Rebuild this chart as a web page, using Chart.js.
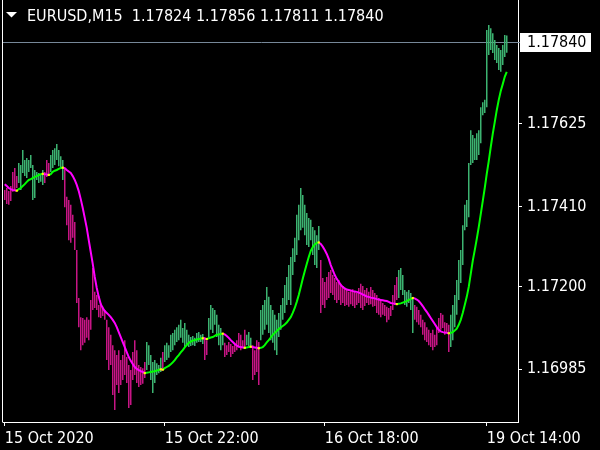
<!DOCTYPE html>
<html>
<head>
<meta charset="utf-8">
<script src="https://cdn.jsdelivr.net/npm/chart.js@4.4.0/dist/chart.umd.min.js"></script>
<style>
html,body{margin:0;padding:0;background:#000;overflow:hidden}
#wrap{width:600px;height:450px;position:relative}
</style>
</head>
<body>
<div id="wrap"><canvas id="c" width="600" height="450"></canvas></div>
<script>
// ---- data ----
const symbolTitle = 'EURUSD,M15';
const lastBarOHLC = [1.17824, 1.17856, 1.17811, 1.17840];
const currentPrice = 1.17840;
const yTickValues = [1.16985, 1.17200, 1.17410, 1.17625];
const xTickBars = [0, 80, 160, 241];
const xTickLabels = ['15 Oct 2020', '15 Oct 22:00', '16 Oct 18:00', '19 Oct 14:00'];

const highs = [
1.17453,1.17458,1.17450,1.17463,1.17500,1.17510,1.17489,1.17523,1.17518,1.17557,
1.17531,1.17536,1.17531,1.17544,1.17518,1.17505,1.17500,1.17497,1.17492,1.17505,
1.17500,1.17531,1.17523,1.17544,1.17557,1.17562,1.17573,1.17557,1.17541,1.17531,
1.17510,1.17435,1.17427,1.17414,1.17388,1.17369,1.17296,1.17171,1.17121,1.17119,
1.17114,1.17121,1.17114,1.17166,1.17249,1.17187,1.17179,1.17153,1.17158,1.17148,
1.17140,1.17114,1.17095,1.17075,1.17048,1.17035,1.17022,1.17035,1.17009,1.17022,
1.17061,1.17017,1.16996,1.16983,1.17030,1.17061,1.17035,1.16996,1.16991,1.16988,
1.17004,1.17056,1.17048,1.17022,1.17004,1.17009,1.17001,1.16996,1.17015,1.17030,
1.17048,1.17054,1.17048,1.17075,1.17080,1.17088,1.17095,1.17101,1.17114,1.17093,
1.17106,1.17088,1.17075,1.17069,1.17072,1.17067,1.17080,1.17082,1.17075,1.17077,
1.17069,1.17061,1.17119,1.17153,1.17145,1.17140,1.17127,1.17101,1.17093,1.17075,
1.17054,1.17048,1.17056,1.17051,1.17046,1.17054,1.17061,1.17080,1.17075,1.17061,
1.17088,1.17075,1.17082,1.17067,1.17048,1.17035,1.17061,1.17056,1.17140,1.17153,
1.17166,1.17200,1.17174,1.17153,1.17140,1.17127,1.17114,1.17132,1.17153,1.17171,
1.17205,1.17226,1.17257,1.17278,1.17301,1.17328,1.17388,1.17414,1.17458,1.17440,
1.17414,1.17393,1.17380,1.17375,1.17356,1.17348,1.17335,1.17359,1.17270,1.17223,
1.17213,1.17226,1.17239,1.17244,1.17231,1.17223,1.17213,1.17218,1.17208,1.17202,
1.17197,1.17192,1.17187,1.17192,1.17194,1.17189,1.17184,1.17197,1.17208,1.17202,
1.17192,1.17197,1.17187,1.17200,1.17192,1.17184,1.17179,1.17171,1.17166,1.17158,
1.17153,1.17148,1.17145,1.17150,1.17179,1.17205,1.17226,1.17244,1.17249,1.17231,
1.17192,1.17187,1.17192,1.17184,1.17171,1.17153,1.17148,1.17140,1.17127,1.17114,
1.17108,1.17095,1.17088,1.17080,1.17088,1.17075,1.17093,1.17119,1.17132,1.17127,
1.17108,1.17106,1.17101,1.17127,1.17153,1.17179,1.17218,1.17270,1.17296,1.17361,
1.17414,1.17427,1.17523,1.17609,1.17596,1.17588,1.17601,1.17609,1.17669,1.17682,
1.17688,1.17870,1.17883,1.17875,1.17862,1.17844,1.17831,1.17823,1.17818,1.17831,
1.17857,1.17856
];

const lows = [
1.17427,1.17416,1.17414,1.17424,1.17448,1.17453,1.17458,1.17471,1.17453,1.17497,
1.17489,1.17484,1.17500,1.17510,1.17427,1.17432,1.17479,1.17471,1.17474,1.17466,
1.17471,1.17487,1.17492,1.17500,1.17510,1.17518,1.17531,1.17515,1.17510,1.17479,
1.17408,1.17361,1.17322,1.17315,1.17328,1.17296,1.17158,1.17095,1.17035,1.17048,
1.17054,1.17067,1.17061,1.17088,1.17140,1.17145,1.17140,1.17121,1.17119,1.17124,
1.17114,1.17009,1.16983,1.16996,1.16918,1.16879,1.16944,1.16923,1.16944,1.16957,
1.16970,1.16949,1.16884,1.16892,1.16957,1.16970,1.16949,1.16939,1.16944,1.16947,
1.16962,1.16983,1.16996,1.16957,1.16923,1.16949,1.16970,1.16975,1.16978,1.16988,
1.17004,1.17009,1.17015,1.17030,1.17035,1.17048,1.17056,1.17061,1.17067,1.17054,
1.17043,1.17048,1.17043,1.17046,1.17048,1.17046,1.17054,1.17056,1.17056,1.17051,
1.17009,1.17022,1.17067,1.17088,1.17080,1.17101,1.17069,1.17048,1.17035,1.17048,
1.17017,1.17022,1.17030,1.17017,1.17025,1.17030,1.17035,1.17043,1.17035,1.17041,
1.17043,1.17048,1.17046,1.17041,1.16957,1.16970,1.16978,1.16944,1.17061,1.17075,
1.17088,1.17101,1.17080,1.17061,1.17054,1.17035,1.17022,1.17069,1.17088,1.17114,
1.17132,1.17153,1.17166,1.17153,1.17231,1.17265,1.17283,1.17322,1.17348,1.17354,
1.17335,1.17309,1.17304,1.17322,1.17283,1.17257,1.17249,1.17296,1.17132,1.17153,
1.17145,1.17166,1.17171,1.17184,1.17179,1.17166,1.17158,1.17166,1.17153,1.17158,
1.17150,1.17153,1.17148,1.17155,1.17150,1.17145,1.17153,1.17158,1.17145,1.17140,
1.17150,1.17158,1.17153,1.17155,1.17148,1.17150,1.17132,1.17127,1.17121,1.17127,
1.17124,1.17108,1.17114,1.17124,1.17140,1.17153,1.17166,1.17171,1.17192,1.17179,
1.17153,1.17148,1.17158,1.17140,1.17080,1.17114,1.17108,1.17101,1.17095,1.17075,
1.17061,1.17056,1.17048,1.17043,1.17035,1.17043,1.17048,1.17080,1.17088,1.17093,
1.17075,1.17080,1.17030,1.17043,1.17061,1.17095,1.17127,1.17166,1.17210,1.17257,
1.17348,1.17356,1.17382,1.17518,1.17523,1.17531,1.17531,1.17544,1.17575,1.17648,
1.17654,1.17669,1.17805,1.17818,1.17810,1.17792,1.17784,1.17766,1.17761,1.17779,
1.17800,1.17811
];

const indicator = [
1.17468,1.17463,1.17458,1.17455,1.17453,1.17452,1.17451,1.17455,1.17458,1.17463,
1.17468,1.17474,1.17479,1.17481,1.17484,1.17487,1.17489,1.17492,1.17494,1.17495,
1.17494,1.17493,1.17492,1.17494,1.17500,1.17503,1.17505,1.17508,1.17510,1.17511,
1.17510,1.17505,1.17501,1.17497,1.17489,1.17479,1.17466,1.17450,1.17429,1.17406,
1.17380,1.17354,1.17322,1.17291,1.17260,1.17226,1.17197,1.17174,1.17155,1.17145,
1.17137,1.17132,1.17127,1.17121,1.17114,1.17106,1.17095,1.17082,1.17069,1.17056,
1.17043,1.17030,1.17017,1.17007,1.16999,1.16991,1.16986,1.16983,1.16980,1.16978,
1.16975,1.16976,1.16977,1.16978,1.16979,1.16980,1.16982,1.16983,1.16985,1.16984,
1.16988,1.16991,1.16994,1.16998,1.17003,1.17009,1.17016,1.17022,1.17029,1.17035,
1.17042,1.17048,1.17054,1.17057,1.17060,1.17061,1.17063,1.17064,1.17065,1.17066,
1.17065,1.17064,1.17066,1.17068,1.17069,1.17072,1.17075,1.17076,1.17077,1.17078,
1.17076,1.17072,1.17067,1.17061,1.17056,1.17051,1.17047,1.17044,1.17043,1.17042,
1.17041,1.17042,1.17043,1.17044,1.17043,1.17042,1.17041,1.17040,1.17041,1.17043,
1.17048,1.17055,1.17061,1.17068,1.17075,1.17080,1.17085,1.17090,1.17094,1.17098,
1.17102,1.17107,1.17114,1.17121,1.17132,1.17145,1.17161,1.17179,1.17200,1.17221,
1.17241,1.17260,1.17278,1.17294,1.17304,1.17311,1.17315,1.17316,1.17312,1.17305,
1.17296,1.17286,1.17273,1.17257,1.17244,1.17231,1.17221,1.17213,1.17205,1.17200,
1.17196,1.17193,1.17192,1.17191,1.17189,1.17188,1.17187,1.17185,1.17183,1.17180,
1.17178,1.17175,1.17174,1.17172,1.17171,1.17170,1.17168,1.17167,1.17166,1.17165,
1.17164,1.17163,1.17161,1.17158,1.17157,1.17156,1.17155,1.17156,1.17157,1.17159,
1.17161,1.17163,1.17166,1.17168,1.17171,1.17170,1.17167,1.17163,1.17157,1.17150,
1.17142,1.17135,1.17127,1.17119,1.17111,1.17103,1.17095,1.17088,1.17084,1.17082,
1.17081,1.17080,1.17079,1.17080,1.17082,1.17086,1.17091,1.17101,1.17114,1.17132,
1.17153,1.17174,1.17200,1.17234,1.17268,1.17296,1.17325,1.17356,1.17390,1.17424,
1.17458,1.17495,1.17528,1.17565,1.17599,1.17630,1.17661,1.17688,1.17711,1.17729,
1.17748,1.17761
];

// ---- styling ----
const FONT = "'DejaVu Sans Condensed', 'Liberation Sans', sans-serif";
const UP_BAR = '#3cb371', DN_BAR = '#c71585';
const UP_LINE = '#00ff00', DN_LINE = '#ff00ff', TURN = '#ffff00';

const barColors = indicator.map((v, i) => (i > 0 && v >= indicator[i - 1]) ? UP_BAR : DN_BAR);
function isTurn(i) {
  if (i <= 0 || i >= indicator.length - 1) return false;
  const a = indicator[i] - indicator[i - 1], b = indicator[i + 1] - indicator[i];
  return (a >= 0) !== (b >= 0);
}

const mtPlugin = {
  id: 'mt',
  beforeDraw(chart) {
    const c = chart.ctx; c.save(); c.fillStyle = '#000'; c.fillRect(0, 0, chart.width, chart.height); c.restore();
  },
  beforeDatasetsDraw(chart) {
    const {ctx, chartArea: a, scales: {y}} = chart;
    const py = Math.round(y.getPixelForValue(currentPrice)) + 0.5;
    ctx.save(); ctx.strokeStyle = '#778899'; ctx.lineWidth = 1;
    ctx.beginPath(); ctx.moveTo(a.left, py); ctx.lineTo(a.right + 2, py); ctx.stroke(); ctx.restore();
  },
  afterDraw(chart) {
    const {ctx, chartArea: a, scales: {y}} = chart;
    ctx.save();
    // left frame
    ctx.strokeStyle = '#fff'; ctx.lineWidth = 1;
    ctx.beginPath(); ctx.moveTo(2.5, 0); ctx.lineTo(2.5, a.bottom + 0.5); ctx.stroke();
    // current price box
    const py = Math.round(y.getPixelForValue(currentPrice));
    ctx.fillStyle = '#fff'; ctx.fillRect(520, py - 9, 71, 19);
    ctx.fillStyle = '#000'; ctx.font = '16px ' + FONT; ctx.textBaseline = 'middle'; ctx.textAlign = 'left';
    ctx.fillText(currentPrice.toFixed(5), 527, py + 1);
    // title
    ctx.fillStyle = '#fff';
    ctx.beginPath(); ctx.moveTo(6, 12); ctx.lineTo(17, 12); ctx.lineTo(11.5, 17.5); ctx.closePath(); ctx.fill();
    ctx.textBaseline = 'alphabetic';
    ctx.fillText(symbolTitle + '  ' + lastBarOHLC.map(v => v.toFixed(5)).join(' '), 27, 21);
    ctx.restore();
  }
};

new Chart(document.getElementById('c'), {
  type: 'bar',
  data: {
    datasets: [
      {
        type: 'line',
        data: indicator.map((v, i) => ({x: i, y: v})),
        borderWidth: 2,
        borderColor: DN_LINE,
        segment: { borderColor: ctx => ctx.p1.parsed.y >= ctx.p0.parsed.y ? UP_LINE : DN_LINE },
        pointRadius: ctx => isTurn(ctx.dataIndex) ? 1.5 : 0,
        pointStyle: 'rect',
        pointBackgroundColor: TURN,
        pointBorderWidth: 0,
        tension: 0,
        order: 0
      },
      {
        type: 'bar',
        data: highs.map((h, i) => ({x: i, y: [lows[i], h]})),
        backgroundColor: barColors,
        barThickness: 1.5,
        borderWidth: 0,
        inflateAmount: 0,
        grouped: false,
        order: 1
      }
    ]
  },
  options: {
    responsive: false,
    devicePixelRatio: 1,
    animation: false,
    events: [],
    layout: { padding: { left: 3, top: 0, right: 0, bottom: 0 } },
    plugins: { legend: { display: false }, tooltip: { enabled: false } },
    scales: {
      x: {
        type: 'linear', position: 'bottom', min: -0.875, max: 256.625, offset: false,
        afterBuildTicks: s => { s.ticks = xTickBars.map(v => ({value: v})); },
        afterFit: s => { s.height = 28; s.paddingLeft = 0; s.paddingRight = 0; },
        grid: { display: true, drawOnChartArea: false, drawTicks: true, tickLength: 4, color: '#fff', lineWidth: 1, offset: false },
        border: { display: true, color: '#fff', width: 1 },
        ticks: { color: '#fff', font: { family: FONT, size: 16 }, align: 'start', maxRotation: 0, minRotation: 0, autoSkip: false, padding: 3,
                 callback: (v, i) => xTickLabels[i] }
      },
      y: {
        type: 'linear', position: 'right', min: 1.168475, max: 1.179485,
        afterBuildTicks: s => { s.ticks = yTickValues.map(v => ({value: v})); },
        afterFit: s => { s.width = 82; s.paddingTop = 0; s.paddingBottom = 0; },
        grid: { display: true, drawOnChartArea: false, drawTicks: true, tickLength: 4, color: '#fff', lineWidth: 1 },
        border: { display: true, color: '#fff', width: 1 },
        ticks: { color: '#fff', font: { family: FONT, size: 16 }, padding: 5, autoSkip: false,
                 callback: v => Number(v).toFixed(5) }
      }
    }
  },
  plugins: [mtPlugin]
});
</script>
</body>
</html>
